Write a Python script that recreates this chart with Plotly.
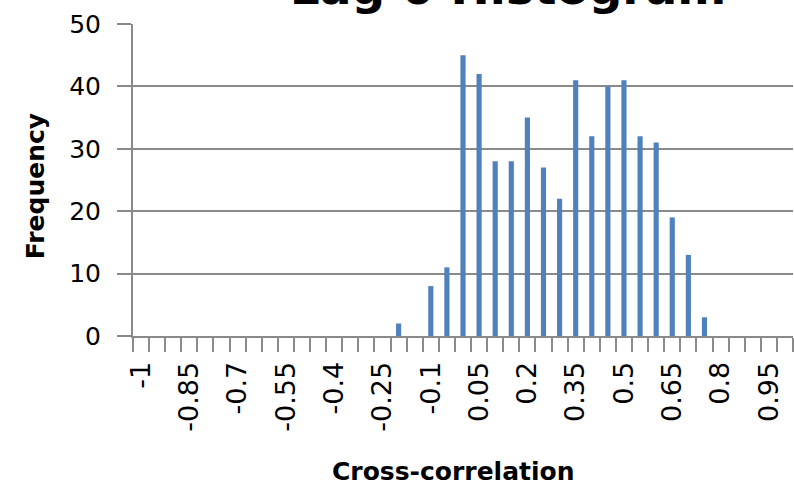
import plotly.graph_objects as go

# histogram bins (cross-correlation) and their frequencies
categories = ["-1", "-0.95", "-0.9", "-0.85", "-0.8", "-0.75", "-0.7", "-0.65", "-0.6",
              "-0.55", "-0.5", "-0.45", "-0.4", "-0.35", "-0.3", "-0.25", "-0.2",
              "-0.15", "-0.1", "-0.05", "0", "0.05", "0.1", "0.15", "0.2", "0.25",
              "0.3", "0.35", "0.4", "0.45", "0.5", "0.55", "0.6", "0.65", "0.7",
              "0.75", "0.8", "0.85", "0.9", "0.95", "1"]
counts = [0, 0, 0, 0, 0, 0, 0, 0, 0, 0, 0, 0, 0, 0, 0, 0, 2,
          0, 8, 11, 45, 42, 28, 28, 35, 27,
          22, 41, 32, 40, 41, 32, 31, 19, 13,
          3, 0, 0, 0, 0, 0]
y_ticks = [0, 10, 20, 30, 40, 50]

xs = [float(c) for c in categories]
step = 0.05
boundaries = [x - step / 2 for x in xs] + [xs[-1] + step / 2]

grey = "#8a8a8a"

bar = go.Bar(x=xs, y=counts,
             marker=dict(color="#4F81BD", line=dict(width=0)),
             width=step * 0.32)

fig = go.Figure(data=[bar])
fig.update_layout(
    width=794, height=486,
    margin=dict(l=133, r=1, t=24, b=150),
    paper_bgcolor="white", plot_bgcolor="white",
    showlegend=False,
    title=dict(text="<b>Lag 0 Histogram</b>", x=508 / 794, xanchor="center",
               xref="container", yref="container", y=1 - 4 / 486, yanchor="bottom",
               font=dict(family="DejaVu Sans", size=47, color="#000000")),
)
fig.update_xaxes(range=[boundaries[0], boundaries[-1]],
                 tickvals=xs[::3], ticktext=categories[::3], tickangle=-90,
                 ticks="", ticklabelstandoff=13,
                 tickfont=dict(family="DejaVu Sans", size=27, color="#000000"),
                 showgrid=False, zeroline=False,
                 showline=True, linecolor=grey, linewidth=2,
                 minor=dict(tickvals=boundaries, ticks="outside", ticklen=14,
                            tickwidth=2, tickcolor=grey, showgrid=False))
fig.update_yaxes(range=[0, 50], tickvals=y_ticks,
                 tickfont=dict(family="DejaVu Sans", size=25, color="#000000"),
                 ticks="outside", ticklen=14, tickwidth=2, tickcolor=grey,
                 ticklabelstandoff=11,
                 showgrid=True, gridcolor=grey, gridwidth=2, zeroline=False,
                 showline=True, linecolor=grey, linewidth=2)

fig.add_annotation(text="<b>Frequency</b>", textangle=-90, showarrow=False,
                   xref="paper", yref="paper", x=(35 - 133) / 660, y=0.48,
                   xanchor="center", yanchor="middle",
                   font=dict(family="DejaVu Sans", size=25, color="#000000"))
fig.add_annotation(text="<b>Cross-correlation</b>", showarrow=False,
                   xref="paper", yref="paper", x=(453 - 133) / 660, y=-(471 - 336) / 312,
                   xanchor="center", yanchor="middle",
                   font=dict(family="DejaVu Sans", size=25, color="#000000"))

# drop the page's default body margin so the figure sits at the window's corner
fig.write_html("out.html", config={"displayModeBar": False},
               post_script="document.body.style.margin = '0px';")
